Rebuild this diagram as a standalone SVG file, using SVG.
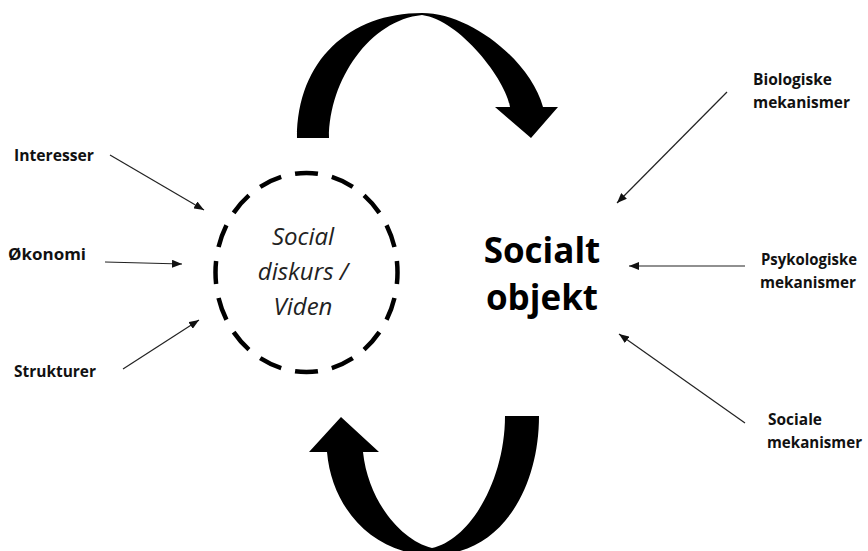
<svg xmlns="http://www.w3.org/2000/svg" width="868" height="551" viewBox="0 0 868 551">
  <style>
    .lbl { font-family: "Open Sans", "Liberation Sans", sans-serif; font-weight: bold; font-size: 15.5px; fill: #111; }
    .disc { font-family: "Open Sans", "Liberation Sans", sans-serif; font-style: italic; font-size: 24px; fill: #222; text-anchor: middle; }
    .obj { font-family: "Open Sans", "Liberation Sans", sans-serif; font-weight: bold; font-size: 35px; fill: #000; text-anchor: middle; }
    .conn { stroke: #222; stroke-width: 1.2; fill: none; marker-end: url(#ah); }
    .big { fill: #000; stroke: none; }
  </style>
  <defs>
    <marker id="ah" markerUnits="userSpaceOnUse" markerWidth="11" markerHeight="8" refX="10" refY="4" orient="auto">
      <path d="M0,0 L10,4 L0,8 Z" fill="#111"/>
    </marker>
  </defs>
  <rect width="868" height="551" fill="#fff"/>

  <g id="cycle-arrows">
    <path id="top-arrow" class="big" d="M297,138 C297,60 350,13 422,13 C470,13 530,60 543,107 L558,107 L531,138 L495,107 L510,107 C506,80 460,20 422,15 C370,20 329,80 329,138 Z"/>
    <path id="bottom-arrow" class="big" d="M539,416 C539,490 500,555 432,555 C375,555 332,510 327,452 L309,452 L341,417 L379,452 L363,452 C368,500 400,540 432,548 C470,540 505,480 505,416 Z"/>
  </g>

  <g id="discourse">
    <ellipse cx="306.5" cy="272.5" rx="91" ry="99.5" fill="none" stroke="#000" stroke-width="4.5" pathLength="16" stroke-dasharray="0.62 0.38" stroke-dashoffset="0.31"/>
    <text class="disc" x="303" y="245">Social</text>
    <text class="disc" x="303" y="280">diskurs /</text>
    <text class="disc" x="303" y="315">Viden</text>
  </g>

  <g id="socialt-objekt">
    <text class="obj" x="542" y="263">Socialt</text>
    <text class="obj" x="542" y="310">objekt</text>
  </g>

  <g id="interesser"><text class="lbl" x="14" y="161" textLength="80" lengthAdjust="spacingAndGlyphs">Interesser</text></g>
  <g id="okonomi"><text class="lbl" x="8" y="260" textLength="78" lengthAdjust="spacingAndGlyphs">Økonomi</text></g>
  <g id="strukturer"><text class="lbl" x="14" y="377" textLength="82" lengthAdjust="spacingAndGlyphs">Strukturer</text></g>

  <g id="biologiske">
    <text class="lbl" x="753" y="85" textLength="79" lengthAdjust="spacingAndGlyphs">Biologiske</text>
    <text class="lbl" x="753" y="108" textLength="97" lengthAdjust="spacingAndGlyphs">mekanismer</text>
  </g>
  <g id="psykologiske">
    <text class="lbl" x="761" y="265" textLength="96" lengthAdjust="spacingAndGlyphs">Psykologiske</text>
    <text class="lbl" x="760" y="288" textLength="96" lengthAdjust="spacingAndGlyphs">mekanismer</text>
  </g>
  <g id="sociale">
    <text class="lbl" x="768" y="425" textLength="54" lengthAdjust="spacingAndGlyphs">Sociale</text>
    <text class="lbl" x="767" y="448" textLength="95" lengthAdjust="spacingAndGlyphs">mekanismer</text>
  </g>

  <g id="connectors">
    <line class="conn" x1="110" y1="155" x2="204" y2="210"/>
    <line class="conn" x1="105" y1="262" x2="182" y2="264"/>
    <line class="conn" x1="123" y1="369" x2="199" y2="320"/>
    <line class="conn" x1="727" y1="92" x2="617" y2="203"/>
    <line class="conn" x1="745" y1="266" x2="629" y2="266"/>
    <line class="conn" x1="745" y1="423" x2="619" y2="334"/>
  </g>
</svg>
